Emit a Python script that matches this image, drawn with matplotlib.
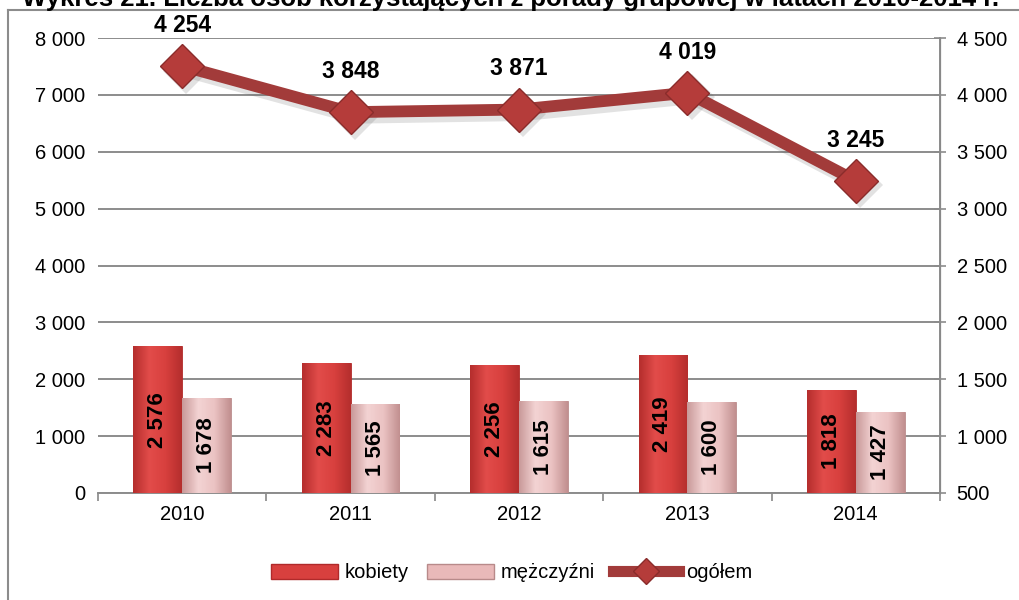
import matplotlib
matplotlib.use("Agg")
import matplotlib.pyplot as plt
import numpy as np
from matplotlib.lines import Line2D
from matplotlib.patches import Rectangle
from matplotlib.colors import LinearSegmentedColormap

years = ["2010", "2011", "2012", "2013", "2014"]
kobiety = [2576, 2283, 2256, 2419, 1818]
mezczyzni = [1678, 1565, 1615, 1600, 1427]
ogolem = [4254, 3848, 3871, 4019, 3245]
left_ticks = [0, 1000, 2000, 3000, 4000, 5000, 6000, 7000, 8000]
right_ticks = [500, 1000, 1500, 2000, 2500, 3000, 3500, 4000, 4500]
title = "Wykres 21. Liczba osób korzystających z porady grupowej w latach 2010-2014 r."

plt.rcParams['font.family'] = ['Liberation Sans', 'DejaVu Sans']

def fmt(v):
    return f"{v:,}".replace(",", " ")

W, H = 1019, 600
fig = plt.figure(figsize=(W/100, H/100), dpi=100)
ax = fig.add_axes([98/W, (H-493)/H, (940-98)/W, (493-38)/H])
ax2 = ax.twinx()

x = np.arange(len(years))
bw = 0.29
red_c = "#D8403E"
pink_c = "#E9B9B9"
kb = ax.bar(x - bw/2, kobiety, bw, color=red_c, edgecolor="#B02A2A", linewidth=0.6, zorder=3)
mb = ax.bar(x + bw/2, mezczyzni, bw, color=pink_c, edgecolor="#B88A8A", linewidth=0.6, zorder=3)

cmap_r = LinearSegmentedColormap.from_list("r", ["#B52E2D", "#E24C4A", "#D8403E", "#B52E2D"])
cmap_p = LinearSegmentedColormap.from_list("p", ["#C99A9A", "#F3D3D3", "#EBC3C3", "#C29090"])
grad = np.linspace(0, 1, 64).reshape(1, -1)
for bars, cm in ((kb, cmap_r), (mb, cmap_p)):
    for b in bars:
        x0, w, h = b.get_x(), b.get_width(), b.get_height()
        im = ax.imshow(grad, cmap=cm, aspect='auto', extent=[x0, x0+w, 0, h], zorder=3.1)
        im.set_clip_path(b)

for bars, vals in ((kb, kobiety), (mb, mezczyzni)):
    for b, v in zip(bars, vals):
        ax.text(b.get_x() + b.get_width()/2, v/2, fmt(v), rotation=90, ha='center', va='center',
                fontsize=16, fontweight='bold', color='black', zorder=5)

ax.set_xlim(-0.5, len(years) - 0.5)
ax.set_ylim(0, 8000)
ax.set_yticks(left_ticks)
ax.set_yticklabels([fmt(t) for t in left_ticks])
ax.set_xticks(x)
ax.set_xticklabels(years)
ax.set_xticks(np.arange(-0.5, len(years)), minor=True)
ax.tick_params(axis='x', which='major', length=0, pad=9, labelsize=14.5)
ax.tick_params(axis='x', which='minor', length=6, color="#888888", width=1.2)
ax.tick_params(axis='y', length=0, pad=9, labelsize=14.5)
ax.grid(axis='y', color="#8C8C8C", linewidth=1.4, zorder=0)
ax.set_axisbelow(True)
for s in ['top', 'left']:
    ax.spines[s].set_visible(False)
ax.spines['bottom'].set_color("#8C8C8C")
ax.spines['bottom'].set_linewidth(1.4)

ax2.set_ylim(500, 4500)
ax2.set_yticks(right_ticks)
ax2.set_yticklabels([fmt(t) for t in right_ticks])
ax2.tick_params(axis='y', length=8, color="#8C8C8C", width=1.2, pad=8, labelsize=14.5, direction='inout')
for s in ['top', 'left', 'bottom']:
    ax2.spines[s].set_visible(False)
ax2.spines['right'].set_color("#8C8C8C")
ax2.spines['right'].set_linewidth(1.4)

line_c = "#A23B3A"
ax2.plot(x + 0.025, [v - 40 for v in ogolem], color="#606060", alpha=0.18, linewidth=10, zorder=3,
         marker='D', markersize=23, markeredgewidth=0)
ax2.plot(x, ogolem, color=line_c, linewidth=8.5, marker='D', markersize=22,
         markerfacecolor="#B53C3A", markeredgecolor="#8A2C2B", markeredgewidth=1.0,
         zorder=4, solid_capstyle='round')
for xi, v in zip(x, ogolem):
    ax2.annotate(fmt(v), (xi, v), xytext=(0, 21), textcoords='offset points', ha='center',
                 va='bottom', fontsize=16.5, fontweight='bold', color='black')

handles = [
    Rectangle((0, 0), 1, 1, facecolor=red_c, edgecolor="#B02A2A"),
    Rectangle((0, 0), 1, 1, facecolor=pink_c, edgecolor="#B88A8A"),
    Line2D([0], [0], color=line_c, linewidth=8, marker='D', markersize=13,
           markerfacecolor="#B53C3A", markeredgecolor="#8A2C2B"),
]
fig.legend(handles, ["kobiety", "mężczyźni", "ogółem"], loc='center', bbox_to_anchor=(512/W, 1 - 573/H),
           ncol=3, frameon=False, fontsize=14.5, handlelength=3.3, handleheight=0.7,
           columnspacing=0.9, handletextpad=0.35)

# outer frame (partially cut)
fig.add_artist(Line2D([8/W, 1.0], [1 - 10/H, 1 - 10/H], transform=fig.transFigure, color="#8C8C8C", linewidth=1.5))
fig.add_artist(Line2D([8/W, 8/W], [1 - 10/H, 0], transform=fig.transFigure, color="#8C8C8C", linewidth=1.5))

fig.text(22/W, 1 - 6/H, title, ha='left', va='baseline', fontsize=18.5, fontweight='bold', color='black')

fig.savefig("out.png", dpi=100)
